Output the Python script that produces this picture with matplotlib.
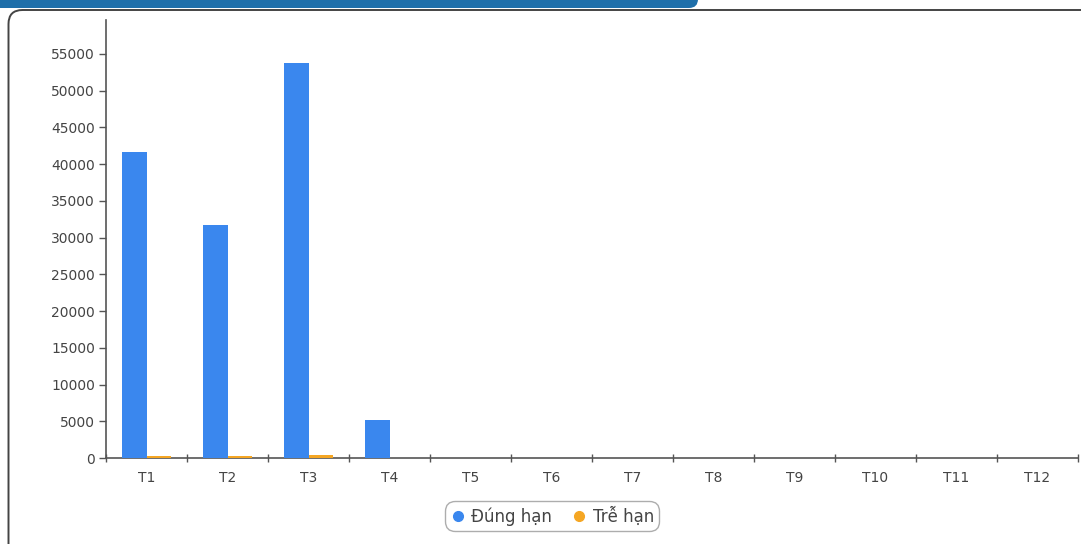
import matplotlib
matplotlib.use("Agg")
import matplotlib.pyplot as plt
import numpy as np
from matplotlib.patches import FancyBboxPatch
from matplotlib.lines import Line2D

plt.rcParams["font.family"] = ["DejaVu Sans"]

categories = ["T1", "T2", "T3", "T4", "T5", "T6", "T7", "T8", "T9", "T10", "T11", "T12"]
on_time = [41600, 31700, 53800, 5200, 0, 0, 0, 0, 0, 0, 0, 0]
late = [300, 250, 450, 0, 0, 0, 0, 0, 0, 0, 0, 0]
series_names = ["Đúng hạn", "Trễ hạn"]
y_ticks = [0, 5000, 10000, 15000, 20000, 25000, 30000, 35000, 40000, 45000, 50000, 55000]

BLUE = "#3a87ee"
ORANGE = "#f5a623"
TEXT = "#444444"
AXIS = "#555555"

W, H = 1081, 544
fig = plt.figure(figsize=(W / 100, H / 100), dpi=100)
fig.patch.set_facecolor("white")

# header strip and rounded card outline
bg = fig.add_axes([0, 0, 1, 1], zorder=-1)
bg.set_xlim(0, W)
bg.set_ylim(H, 0)
bg.axis("off")
bg.add_patch(FancyBboxPatch((-20, -30), 718, 38, boxstyle="round,pad=0,rounding_size=9",
                            facecolor="#1f6faa", edgecolor="none"))
bg.add_patch(FancyBboxPatch((8.5, 10), W + 20, H + 20, boxstyle="round,pad=0,rounding_size=14",
                            facecolor="white", edgecolor="#444444", linewidth=1.4))

left_px, right_px = 106, 1078
ax = fig.add_axes([left_px / W, 1 - 458 / H, (right_px - left_px) / W, (458 - 20) / H])
ax.set_facecolor("none")

x = np.arange(len(categories))
bw = 0.3
ax.bar(x - bw / 2, on_time, width=bw, color=BLUE, zorder=3)
ax.bar(x + bw / 2, late, width=bw, color=ORANGE, zorder=3)

ax.set_xlim(-0.5, len(categories) - 0.5)
ax.set_ylim(0, 59600)

ax.set_yticks(y_ticks)
ax.set_yticklabels([str(v) for v in y_ticks])
ax.set_xticks(x)
ax.set_xticklabels(categories)
ax.tick_params(axis="x", length=0, pad=9, labelsize=10, labelcolor=TEXT)
ax.tick_params(axis="y", length=5, width=1, color=AXIS, pad=3, labelsize=10, labelcolor=TEXT)
ax.set_xticks(np.arange(len(categories) + 1) - 0.5, minor=True)
ax.tick_params(axis="x", which="minor", length=6, width=1, color=AXIS, direction="inout")

for s in ["top", "right"]:
    ax.spines[s].set_visible(False)
for s in ["left", "bottom"]:
    ax.spines[s].set_color(AXIS)
    ax.spines[s].set_linewidth(1.2)

handles = [Line2D([], [], marker="o", linestyle="none", markersize=7, color=c)
           for c in (BLUE, ORANGE)]
leg = fig.legend(handles, series_names, loc="center", bbox_to_anchor=(552 / W, 1 - 516 / H),
                 ncol=2, frameon=True, fontsize=12, handletextpad=0.35, columnspacing=1.2,
                 borderpad=0.3, handlelength=0.9, fancybox=True, borderaxespad=0)
leg.get_frame().set_edgecolor("#999999")
leg.get_frame().set_linewidth(1.0)
leg.get_frame().set_boxstyle("round,pad=0,rounding_size=0.6")
for t in leg.get_texts():
    t.set_color(TEXT)

fig.savefig("out.png", dpi=100)
